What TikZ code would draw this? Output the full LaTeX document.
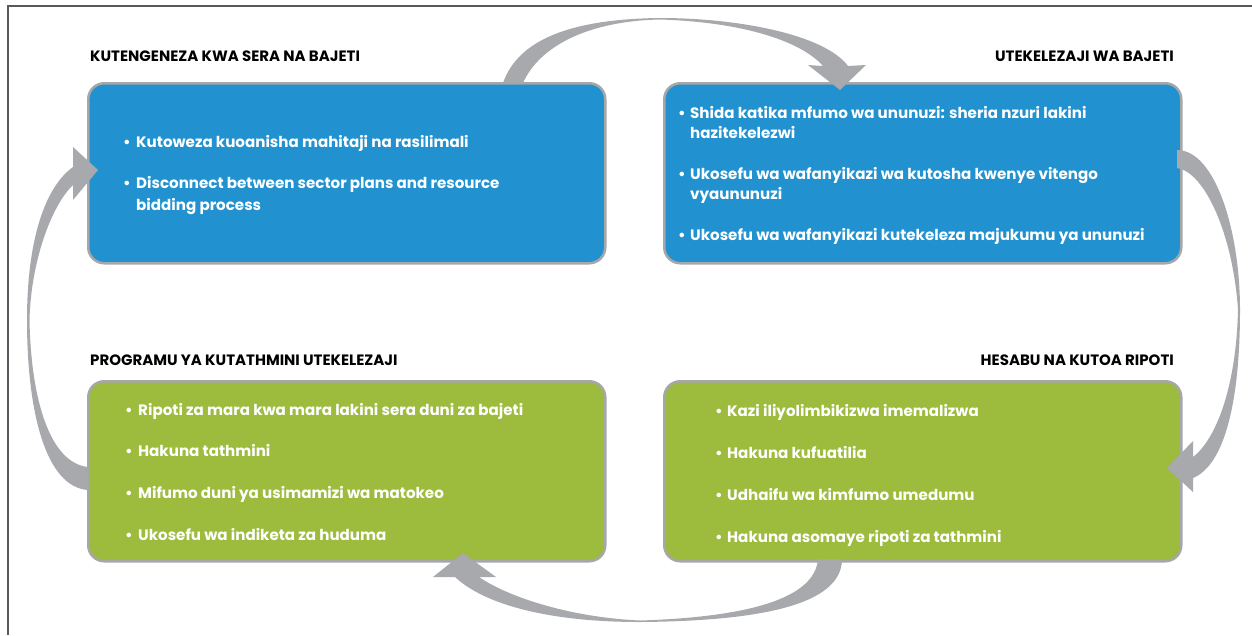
\documentclass[tikz,border=0pt]{standalone}
\usepackage{fontspec}
\setmainfont{Poppins}
\definecolor{boxblue}{RGB}{33,146,207}
\definecolor{boxgreen}{RGB}{157,187,60}
\definecolor{arrgray}{RGB}{167,169,172}
\definecolor{edgegray}{RGB}{165,167,170}
\begin{document}
\begin{tikzpicture}[x=1pt,y=-1pt,
 panel/.style={draw=edgegray, line width=2.5pt, rounded corners=16pt, inner sep=0, minimum width=517pt, minimum height=180pt, anchor=north west},
 bluepanel/.style={panel, fill=boxblue},
 greenpanel/.style={panel, fill=boxgreen},
 title/.style={font=\fontsize{15}{17}\selectfont\bfseries, text=black, inner sep=0},
 itm/.style={font=\fontsize{15.1}{20}\selectfont\bfseries, text=white, inner sep=0, anchor=base west},
 cyc/.style={fill=arrgray, draw=none}]
\useasboundingbox (0,0) rectangle (1252,635);
\fill[white] (0,0) rectangle (1252,635);
\draw[line width=1.2pt, color=black!65] (1252,6) -- (8,6) -- (8,635);

% panels
\node[bluepanel] (p1) at (87,82) {};
\node[bluepanel] (p2) at (663,82) {};
\node[greenpanel] (p3) at (87,380) {};
\node[greenpanel] (p4) at (663,380) {};

% cycle arrows
\fill[cyc] (503,83) .. controls (518,40) and (570,19) .. (660,18) .. controls (740,18) and (825,35) .. (848,66)
  -- (866,65) -- (840,90) -- (808,65) -- (823,66)
  .. controls (800,40) and (740,22) .. (660,19.5) .. controls (590,21) and (540,45) .. (523,83) -- cycle;
\fill[cyc] (1177,150) .. controls (1215,150) and (1240,230) .. (1240,310) .. controls (1240,400) and (1225,465) .. (1193,478)
  -- (1193,492) -- (1167,468) -- (1193,441) -- (1193,457)
  .. controls (1215,440) and (1236,390) .. (1238,310) .. controls (1233,235) and (1205,172) .. (1177,168) -- cycle;
\fill[cyc] (842,559) .. controls (842,605) and (760,621) .. (640,622) .. controls (550,622) and (485,605) .. (455,577)
  -- (433,577) -- (463,553) -- (496,577) -- (479,577)
  .. controls (505,595) and (565,617) .. (640,620.5) .. controls (750,617) and (815,598) .. (818,559) -- cycle;
\fill[cyc] (88,490) .. controls (45,487) and (27,410) .. (27,320) .. controls (27,240) and (45,187) .. (73,167)
  -- (73,147) -- (98,170) -- (73,200) -- (73,185)
  .. controls (52,205) and (31,260) .. (29.5,320) .. controls (31,400) and (50,463) .. (88,467) -- cycle;

% titles
\node[title, anchor=base west] (t1) at (90,61) {KUTENGENEZA KWA SERA NA BAJETI};
\node[title, anchor=base east] (t2) at (1174,61) {UTEKELEZAJI WA BAJETI};
\node[title, anchor=base west] (t3) at (90,365) {PROGRAMU YA KUTATHMINI UTEKELEZAJI};
\node[title, anchor=base east] (t4) at (1174,365) {HESABU NA KUTOA RIPOTI};

% panel 1
\node[itm] (b1a) at (123,147) {•};
\node[itm] (l1a) at (136,147) {Kutoweza kuoanisha mahitaji na rasilimali};
\node[itm] (b1b) at (123,188) {•};
\node[itm] (l1b) at (136,188) {Disconnect between sector plans and resource};
\node[itm] (l1c) at (136,210) {bidding process};
% panel 2
\node[itm] (b2a) at (678,118) {•};
\node[itm] (l2a) at (690,118) {Shida katika mfumo wa ununuzi: sheria nzuri lakini};
\node[itm] (l2b) at (690,138) {hazitekelezwi};
\node[itm] (b2c) at (678,179) {•};
\node[itm] (l2c) at (690,179) {Ukosefu wa wafanyikazi wa kutosha kwenye vitengo};
\node[itm] (l2d) at (690,199) {vyaununuzi};
\node[itm] (b2e) at (678,240) {•};
\node[itm] (l2e) at (690,240) {Ukosefu wa wafanyikazi kutekeleza majukumu ya ununuzi};
% panel 3
\node[itm] (b3a) at (125,415) {•};
\node[itm] (l3a) at (138,415) {Ripoti za mara kwa mara lakini sera duni za bajeti};
\node[itm] (b3b) at (125,456) {•};
\node[itm] (l3b) at (138,456) {Hakuna tathmini};
\node[itm] (b3c) at (125,498) {•};
\node[itm] (l3c) at (138,498) {Mifumo duni ya usimamizi wa matokeo};
\node[itm] (b3d) at (125,540) {•};
\node[itm] (l3d) at (138,540) {Ukosefu wa indiketa za huduma};
% panel 4
\node[itm] (b4a) at (715,416) {•};
\node[itm] (l4a) at (727,416) {Kazi iliyolimbikizwa imemalizwa};
\node[itm] (b4b) at (715,458) {•};
\node[itm] (l4b) at (727,458) {Hakuna kufuatilia};
\node[itm] (b4c) at (715,500) {•};
\node[itm] (l4c) at (727,500) {Udhaifu wa kimfumo umedumu};
\node[itm] (b4d) at (715,542) {•};
\node[itm] (l4d) at (727,542) {Hakuna asomaye ripoti za tathmini};
\end{tikzpicture}
\end{document}
